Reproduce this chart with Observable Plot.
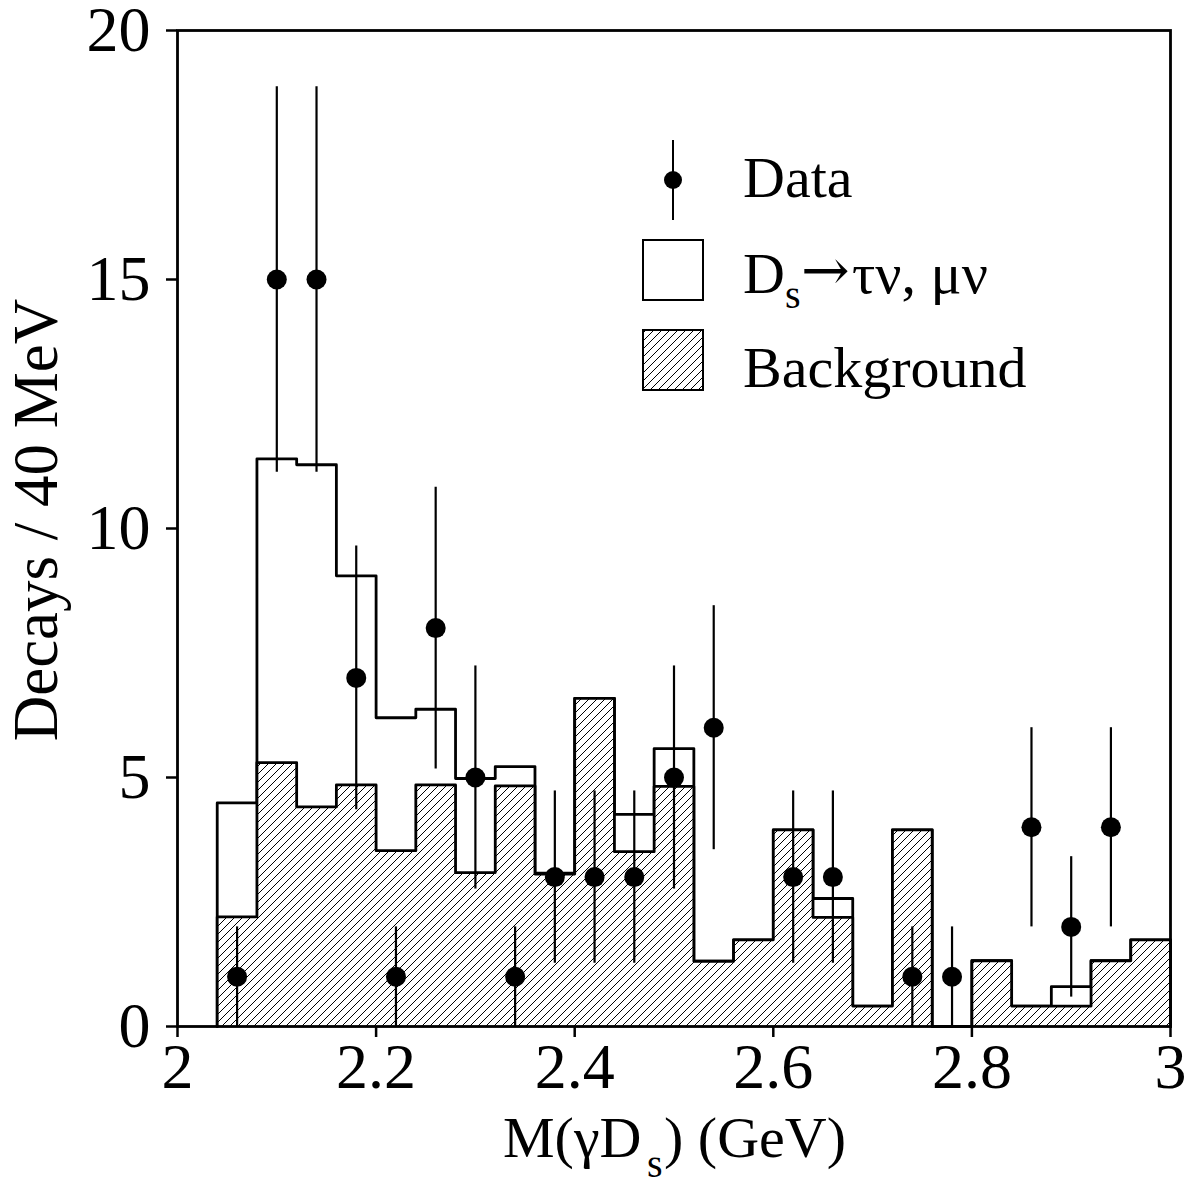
<!DOCTYPE html>
<html>
<head>
<meta charset="utf-8">
<script src="https://cdn.jsdelivr.net/npm/d3@7"></script>
<script src="https://cdn.jsdelivr.net/npm/@observablehq/plot@0.6"></script>
<style>
  html, body { margin: 0; padding: 0; background: #fff; }
  #chart { width: 1189px; height: 1190px; }
  svg { font-family: "Liberation Serif", "Times New Roman", serif; }
  svg text, svg tspan { fill: #000; }
</style>
</head>
<body>
<div id="chart"></div>
<script>
// Bin low edges (40 MeV bins) and the last upper edge
const binLo = [2.04, 2.08, 2.12, 2.16, 2.20, 2.24, 2.28, 2.32, 2.36, 2.40, 2.44, 2.48,
               2.52, 2.56, 2.60, 2.64, 2.68, 2.72, 2.76, 2.80, 2.84, 2.88, 2.92, 2.96];
const lastEdge = 3.00;
// Stacked total (signal + background) and background alone
const totalVals = [4.49, 11.40, 11.28, 9.05, 6.20, 6.37, 4.98, 5.22, 3.08, 6.59, 4.26, 5.58,
                   1.31, 1.74, 3.95, 2.57, 0.41, 3.95, 0, 1.32, 0.41, 0.80, 1.32, 1.74];
const bgVals = [2.20, 5.30, 4.41, 4.85, 3.53, 4.85, 3.09, 4.83, 3.06, 6.59, 3.51, 4.82,
                1.31, 1.74, 3.95, 2.19, 0.41, 3.95, 0, 1.32, 0.41, 0.41, 1.32, 1.74];
// Data points
const dataX = [2.06, 2.10, 2.14, 2.18, 2.22, 2.26, 2.30, 2.34, 2.38, 2.42, 2.46, 2.50, 2.54,
               2.62, 2.66, 2.74, 2.78, 2.86, 2.90, 2.94];
const dataN = [1, 15, 15, 7, 1, 8, 5, 1, 3, 3, 3, 5, 6, 3, 3, 1, 1, 4, 2, 4];
const dataErr = [1, 3.87, 3.87, 2.65, 1, 2.83, 2.24, 1, 1.73, 1.73, 1.73, 2.24, 2.45,
                 1.73, 1.73, 1, 1, 2, 1.41, 2];
const xTicks = [2, 2.2, 2.4, 2.6, 2.8, 3];
const yTicks = [0, 5, 10, 15, 20];

function stepPoints(vals) {
  const pts = [{x: binLo[0], y: 0}];
  binLo.forEach((x, i) => pts.push({x, y: vals[i]}));
  pts.push({x: lastEdge, y: vals[vals.length - 1]});
  pts.push({x: lastEdge, y: 0});
  return pts;
}
const totalPts = stepPoints(totalVals);
const bgPts = stepPoints(bgVals);
const points = dataX.map((x, i) => ({x, n: dataN[i], lo: dataN[i] - dataErr[i], hi: dataN[i] + dataErr[i]}));

const fontFamily = '"Liberation Serif", "Times New Roman", serif';

const plot = Plot.plot({
  width: 1189,
  height: 1190,
  marginLeft: 177,
  marginRight: 19,
  marginTop: 30,
  marginBottom: 164,
  style: {fontFamily, background: "#fff", overflow: "visible"},
  x: {domain: [2, 3]},
  y: {domain: [0, 20]},
  marks: [
    Plot.areaY(totalPts, {x: "x", y: "y", curve: "step-after", fill: "white"}),
    Plot.line(totalPts, {x: "x", y: "y", curve: "step-after", stroke: "black", strokeWidth: 2.8}),
    Plot.areaY(bgPts, {x: "x", y: "y", curve: "step-after", fill: "url(#hatch)"}),
    Plot.line(bgPts, {x: "x", y: "y", curve: "step-after", stroke: "black", strokeWidth: 2.8}),
    Plot.ruleX(points, {x: "x", y1: "lo", y2: "hi", stroke: "black", strokeWidth: 2.2}),
    Plot.dot(points, {x: "x", y: "n", r: 10, fill: "black"}),
    Plot.frame({stroke: "black", strokeWidth: 2.8}),
    Plot.axisX({ticks: xTicks, tickSize: 11, tickPadding: 5, fontSize: 64, strokeWidth: 2.5, label: null, tickFormat: d3.format("")}),
    Plot.axisY({ticks: yTicks, tickSize: 11, tickPadding: 16, fontSize: 64, strokeWidth: 2.5, label: null})
  ]
});

document.getElementById("chart").appendChild(plot);
const svg = d3.select(plot);

// hatch pattern
const defs = svg.insert("defs", ":first-child");
const pat = defs.append("pattern").attr("id", "hatch").attr("patternUnits", "userSpaceOnUse")
  .attr("width", 8).attr("height", 8);
pat.append("rect").attr("width", 8).attr("height", 8).attr("fill", "white");
pat.append("path").attr("d", "M-2,2 L2,-2 M0,8 L8,0 M6,10 L10,6").attr("stroke", "black").attr("stroke-width", 1);

function txt(parent, x, y, size, s, anchor = "start", family = null) {
  const t = parent.append("text").attr("x", x).attr("y", y).attr("font-size", size)
    .attr("text-anchor", anchor).attr("fill", "#000").style("fill", "#000").text(s);
  if (family) t.attr("font-family", family);
  return t;
}

// axis labels
svg.append("text")
  .attr("transform", "translate(57,520) rotate(-90)")
  .attr("text-anchor", "middle")
  .attr("font-size", 63)
  .attr("fill", "#000")
  .text("Decays / 40 MeV");

// x label: M(γD_s) (GeV)
txt(svg, 503, 1157, 58, "M(γD");
txt(svg, 647, 1177, 40, "s");
txt(svg, 664, 1157, 58, ") (GeV)");

// legend
const lg = svg.append("g");
lg.append("line").attr("x1", 673).attr("x2", 673).attr("y1", 140).attr("y2", 220)
  .attr("stroke", "black").attr("stroke-width", 2);
lg.append("circle").attr("cx", 673).attr("cy", 180).attr("r", 9).attr("fill", "black");
txt(lg, 743, 197, 58, "Data");
lg.append("rect").attr("x", 643).attr("y", 240).attr("width", 60).attr("height", 60)
  .attr("fill", "white").attr("stroke", "black").attr("stroke-width", 2);
txt(lg, 743, 293, 58, "D");
txt(lg, 785, 308, 40, "s");
txt(lg, 801, 290, 58, "→", "start", '"DejaVu Serif", serif');
txt(lg, 852, 293, 58, "τν, μν");
lg.append("rect").attr("x", 643).attr("y", 330).attr("width", 60).attr("height", 60)
  .attr("fill", "url(#hatch)").attr("stroke", "black").attr("stroke-width", 2);
txt(lg, 743, 387, 58, "Background");
</script>
</body>
</html>
